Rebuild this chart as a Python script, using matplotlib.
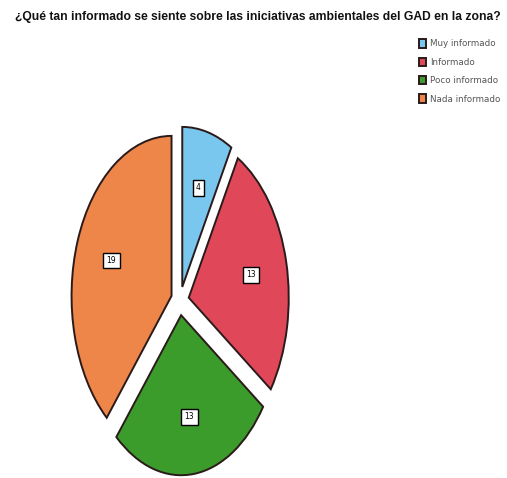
import matplotlib
matplotlib.use("Agg")
import matplotlib.pyplot as plt

# datos de la encuesta
categorias = ["Muy informado", "Informado", "Poco informado", "Nada informado"]
valores = [4, 13, 13, 19]
colores = ["#79c6ee", "#e0485a", "#3b9b2b", "#ee8549"]
titulo = "¿Qué tan informado se siente sobre las iniciativas ambientales del GAD en la zona?"

fig = plt.figure(figsize=(5.07, 4.78), dpi=100)
fig.patch.set_facecolor("white")

# ejes estirados verticalmente (la foto deja el pastel ovalado)
ax = fig.add_axes([0.1085, -0.048, 0.493, 0.837])
wedges, texts = ax.pie(valores, colors=colores, startangle=90, counterclock=False,
                       explode=[0.09] * len(valores),
                       labels=[str(v) for v in valores], labeldistance=0.64,
                       wedgeprops=dict(edgecolor="#2a1a1a", linewidth=1.4))
for t in texts:
    t.set_fontsize(5.5)
    t.set_ha("center")
    t.set_va("center")
    t.set_bbox(dict(boxstyle="square,pad=0.45", facecolor="white",
                    edgecolor="black", linewidth=1.0))
ax.set_aspect("auto")
ax.set_xlim(-1.25, 1.25)
ax.set_ylim(-1.25, 1.25)
ax.axis("off")

fig.text(0.508, 0.964, titulo, ha="center", va="center", fontsize=8.7,
         fontweight="bold", family=["Liberation Sans", "DejaVu Sans"], color="#111111")

leg = fig.legend(wedges, categorias, loc="upper left", bbox_to_anchor=(0.818, 0.927),
                 frameon=False, fontsize=6.3, handlelength=0.75, handleheight=1.1,
                 handletextpad=0.5, labelspacing=1.05, borderpad=0.0)
for t in leg.get_texts():
    t.set_color("#555555")

fig.savefig("out.png", dpi=100, facecolor="white")
